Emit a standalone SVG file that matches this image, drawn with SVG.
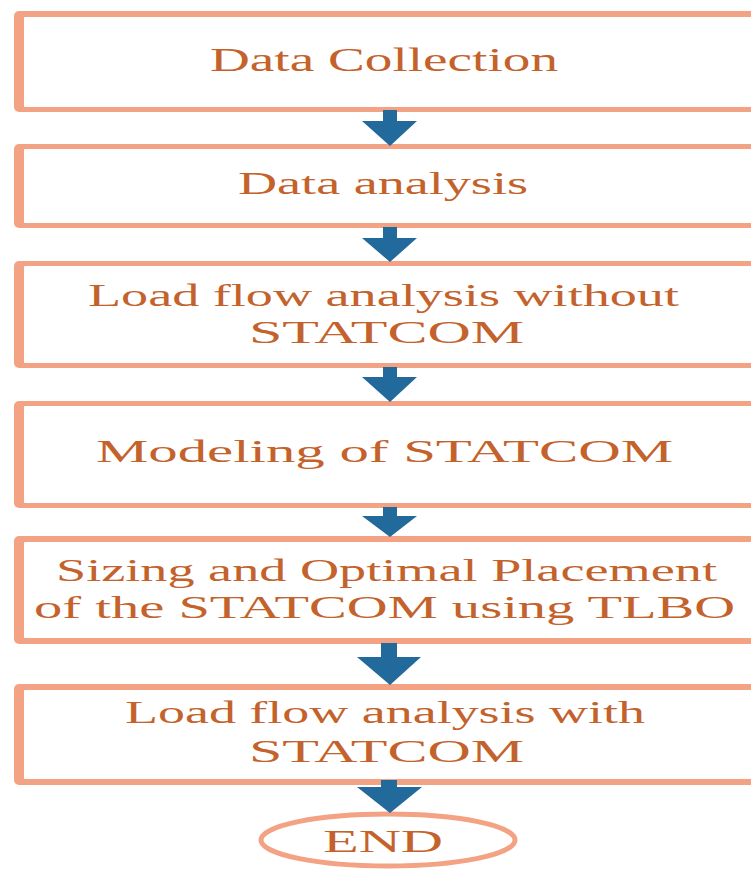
<svg xmlns="http://www.w3.org/2000/svg" width="751" height="869" viewBox="0 0 751 869">
<style>
.bo{fill:#F3A384}
.bi{fill:#FFFFFF}
.t{font-family:"Liberation Serif","Times New Roman",serif;font-size:31px;fill:#C4622C}
.ar{fill:#236A9C}
.el{fill:#FFFFFF;stroke:#F3A384;stroke-width:5}
</style>
<rect width="751" height="869" fill="#FFFFFF"/>
<g id="n1">
<rect class="bo" x="14" y="11" width="760" height="101" rx="5"/>
<rect class="bi" x="24" y="17" width="760" height="90" rx="1"/>
<text class="t" transform="matrix(1.7 0 0 1 210 71)" x="0" y="0" style="font-size:33px" textLength="204.7" lengthAdjust="spacingAndGlyphs">Data Collection</text>
</g>
<g id="n2">
<rect class="bo" x="14" y="144" width="760" height="84" rx="5"/>
<rect class="bi" x="24" y="149" width="760" height="74" rx="1"/>
<text class="t" transform="matrix(1.7 0 0 1 238 194)" x="0" y="0" textLength="170.6" lengthAdjust="spacingAndGlyphs">Data analysis</text>
</g>
<g id="n3">
<rect class="bo" x="14" y="261" width="760" height="107" rx="5"/>
<rect class="bi" x="24" y="266" width="760" height="97" rx="1"/>
<text class="t" transform="matrix(1.7 0 0 1 88 306)" x="0" y="0" textLength="347.6" lengthAdjust="spacingAndGlyphs">Load flow analysis without</text>
<text class="t" transform="matrix(1.7 0 0 1 249 343)" x="0" y="0" textLength="161.8" lengthAdjust="spacingAndGlyphs">STATCOM</text>
</g>
<g id="n4">
<rect class="bo" x="14" y="401" width="760" height="107" rx="5"/>
<rect class="bi" x="24" y="406" width="760" height="97" rx="1"/>
<text class="t" transform="matrix(1.7 0 0 1 96 462)" x="0" y="0" textLength="339.4" lengthAdjust="spacingAndGlyphs">Modeling of STATCOM</text>
</g>
<g id="n5">
<rect class="bo" x="14" y="536" width="760" height="108" rx="5"/>
<rect class="bi" x="24" y="542" width="760" height="96" rx="1"/>
<text class="t" transform="matrix(1.7 0 0 1 56 581)" x="0" y="0" textLength="388.8" lengthAdjust="spacingAndGlyphs">Sizing and Optimal Placement</text>
<text class="t" transform="matrix(1.7 0 0 1 34 618)" x="0" y="0" textLength="412.4" lengthAdjust="spacingAndGlyphs">of the STATCOM using TLBO</text>
</g>
<g id="n6">
<rect class="bo" x="14" y="684" width="760" height="101" rx="5"/>
<rect class="bi" x="24" y="690" width="760" height="89" rx="1"/>
<text class="t" transform="matrix(1.7 0 0 1 125 723)" x="0" y="0" textLength="305.9" lengthAdjust="spacingAndGlyphs">Load flow analysis with</text>
<text class="t" transform="matrix(1.7 0 0 1 249 762)" x="0" y="0" textLength="161.8" lengthAdjust="spacingAndGlyphs">STATCOM</text>
</g>
<g id="end">
<ellipse class="el" cx="388" cy="840" rx="127" ry="26"/>
<text class="t" transform="matrix(1.7 0 0 1 323 852)" x="0" y="0" textLength="70.6" lengthAdjust="spacingAndGlyphs">END</text>
</g>
<g id="connectors">
<path class="ar" d="M383 110H397V121H417L390 146L362 121H383Z"/>
<path class="ar" d="M383 227H397V238H417L390 262L362 238H383Z"/>
<path class="ar" d="M383 367H397V377H417L390 402L362 377H383Z"/>
<path class="ar" d="M383 507H397V516H417L390 537L362 516H383Z"/>
<path class="ar" d="M381 643H397V657H421L390 685L357 657H381Z"/>
<path class="ar" d="M381 780H397V787H422L390 813L357 787H381Z"/>
</g>
</svg>
